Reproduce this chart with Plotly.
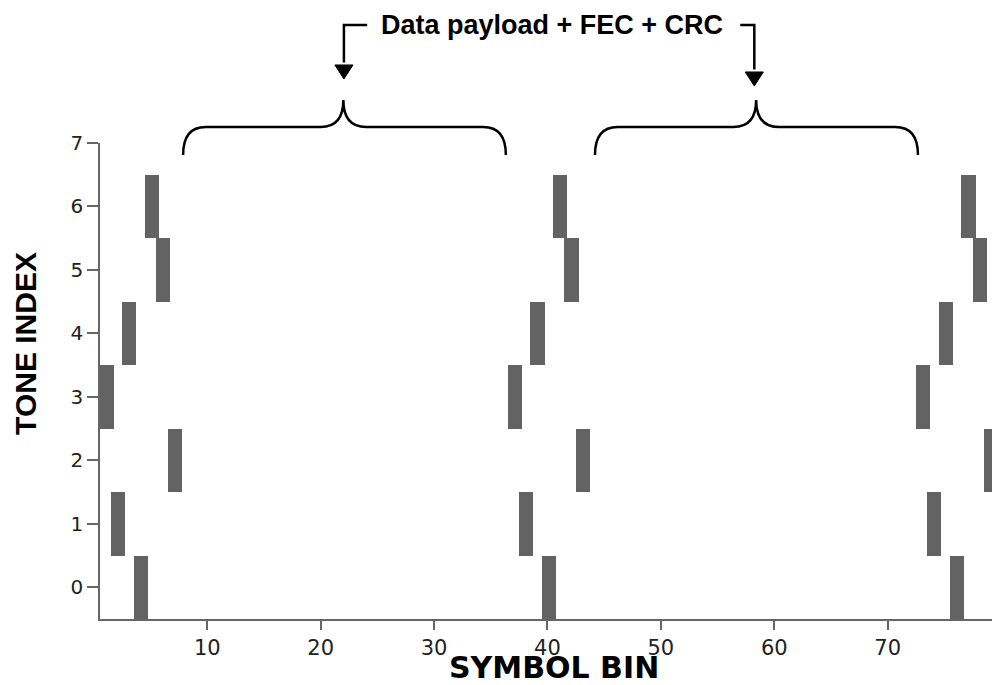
import plotly.graph_objects as go

# ---- data ----
costas_tones = [3, 1, 4, 0, 6, 5, 2]
sync_block_starts = [0, 36, 72]
symbol_bins = [s + i for s in sync_block_starts for i in range(len(costas_tones))]
tone_index = [t for _ in sync_block_starts for t in costas_tones]

x_ticks = [10, 20, 30, 40, 50, 60, 70]
y_ticks = [0, 1, 2, 3, 4, 5, 6, 7]

payload_spans = [(7.87, 36.33, 22.0), (44.19, 72.67, 58.4)]  # brace start, end, tip (symbol bin)
annotation_text = "Data payload + FEC + CRC"
x_title = "SYMBOL BIN"
y_title = "TONE INDEX"

# ---- styling ----
BAR_OFFSET = 1.12
BAR_WIDTH = 1.25
BAR_COLOR = "#636363"
AXIS_COLOR = "#666666"

fig = go.Figure()
fig.add_trace(go.Bar(
    x=[b + BAR_OFFSET for b in symbol_bins],
    y=[1] * len(tone_index),
    base=[t - 0.5 for t in tone_index],
    width=BAR_WIDTH,
    marker=dict(color=BAR_COLOR, line=dict(width=0)),
    hoverinfo="skip",
    showlegend=False,
))

shapes = []
# curly braces
y_bot, y_mid, y_tip = 0.975, 1.0336, 1.0903
r_end, r_tip = 2.0, 2.0
for x0, x1, xm in payload_spans:
    path = (f"M {x0},{y_bot} Q {x0},{y_mid} {x0 + r_end},{y_mid} "
            f"L {xm - r_tip},{y_mid} Q {xm},{y_mid} {xm},{y_tip} "
            f"Q {xm},{y_mid} {xm + r_tip},{y_mid} "
            f"L {x1 - r_end},{y_mid} Q {x1},{y_mid} {x1},{y_bot}")
    shapes.append(dict(type="path", xref="x", yref="paper", path=path,
                       line=dict(color="black", width=2.5)))

# arrows from the label down to the braces
y_text = 1.2479
arrow_defs = [
    # (x of arrow, x of line start near text, y of triangle top, y of tip)
    (22.05, 24.1, 1.1639, 1.1345),
    (58.24, 57.0, 1.1492, 1.1197),
]
half_w = 0.8
for xa, xs, ytop, ytipa in arrow_defs:
    shapes.append(dict(type="path", xref="x", yref="paper",
                       path=f"M {xs},{y_text} L {xa},{y_text} L {xa},{ytop + 0.005}",
                       line=dict(color="black", width=2.5)))
    shapes.append(dict(type="path", xref="x", yref="paper",
                       path=f"M {xa - half_w},{ytop} L {xa + half_w},{ytop} L {xa},{ytipa} Z",
                       fillcolor="black", line=dict(color="black", width=1)))

fig.update_layout(
    width=992, height=685,
    margin=dict(l=100, r=0, t=143, b=66, autoexpand=False),
    paper_bgcolor="white", plot_bgcolor="white",
    bargap=0,
    shapes=shapes,
    annotations=[
        dict(text=f"<b>{annotation_text}</b>", xref="x", yref="paper",
             x=40.4, y=y_text, showarrow=False, xanchor="center", yanchor="middle",
             font=dict(family="Liberation Sans", size=27, color="black")),
        dict(text=f"<b>{x_title}</b>", xref="paper", yref="paper",
             x=0.509, y=-0.102, showarrow=False, xanchor="center", yanchor="middle",
             font=dict(family="DejaVu Sans", size=30, color="black")),
        dict(text=f"<b>{y_title}</b>", xref="paper", yref="paper", textangle=-90,
             x=-0.083, y=0.58, showarrow=False, xanchor="center", yanchor="middle",
             font=dict(family="Liberation Sans", size=30, color="black")),
    ],
    xaxis=dict(
        range=[0.54, 79.2], tickvals=x_ticks, ticktext=[str(v) for v in x_ticks],
        showline=True, linecolor=AXIS_COLOR, linewidth=1.5,
        ticks="outside", ticklen=9, tickwidth=1.5, tickcolor=AXIS_COLOR,
        showgrid=False, zeroline=False, automargin=False,
        tickfont=dict(family="DejaVu Sans", size=21, color="#222222"),
    ),
    yaxis=dict(
        range=[-0.5, 7], tickvals=y_ticks, ticktext=[str(v) for v in y_ticks],
        showline=True, linecolor=AXIS_COLOR, linewidth=1.5,
        ticks="outside", ticklen=11, tickwidth=1.5, tickcolor=AXIS_COLOR,
        showgrid=False, zeroline=False, automargin=False,
        tickfont=dict(family="DejaVu Sans", size=20, color="#222222"),
    ),
)

# remove the page's default body margin so the figure fills the window exactly
fig.write_html(
    "out.html",
    config={"displayModeBar": False},
    post_script="document.body.style.margin='0';document.body.style.overflow='hidden';",
)
